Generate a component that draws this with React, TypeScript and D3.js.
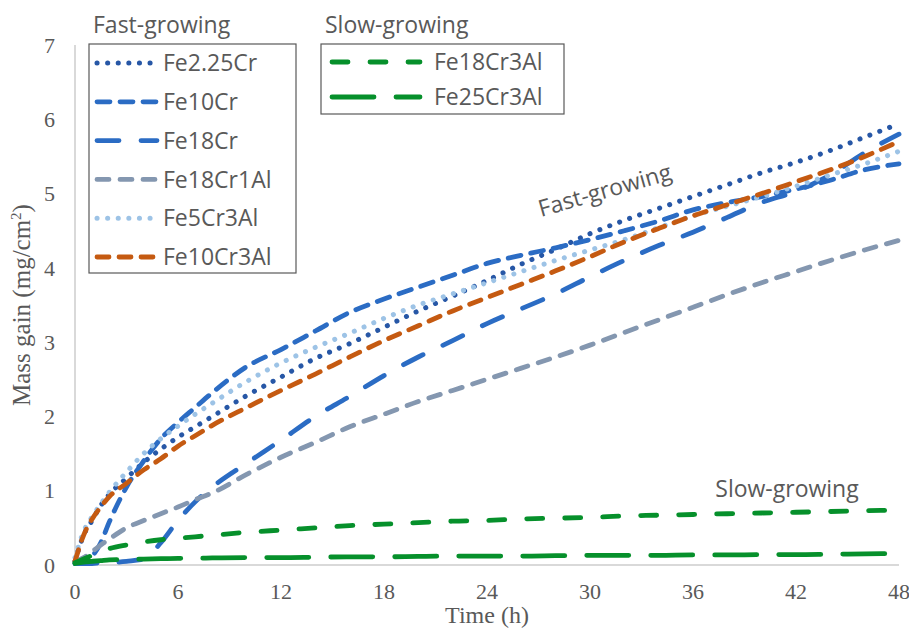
import * as d3 from "d3";

const hours = [0, 0.5, 1, 1.5, 2, 3, 4, 5, 6, 7, 8, 10, 12, 14, 16, 18, 20, 22, 24, 26, 28, 30, 32, 34, 36, 38, 40, 42, 44, 46, 48];

const fe225Cr = [0.05, 0.4, 0.6, 0.8, 0.95, 1.17, 1.38, 1.56, 1.72, 1.86, 2.0, 2.28, 2.53, 2.78, 2.98, 3.2, 3.42, 3.62, 3.83, 4.05, 4.25, 4.46, 4.64, 4.8, 4.96, 5.12, 5.28, 5.42, 5.58, 5.76, 5.94];
const fe10Cr = [0.02, 0.05, 0.12, 0.3, 0.58, 1.05, 1.4, 1.7, 1.92, 2.12, 2.32, 2.67, 2.9, 3.15, 3.4, 3.58, 3.74, 3.9, 4.06, 4.17, 4.27, 4.38, 4.5, 4.63, 4.78, 4.88, 4.96, 5.06, 5.18, 5.32, 5.4];
const fe18Cr = [0.02, 0.02, 0.02, 0.03, 0.03, 0.05, 0.08, 0.3, 0.6, 0.85, 1.05, 1.37, 1.68, 2.0, 2.27, 2.55, 2.8, 3.02, 3.25, 3.45, 3.65, 3.88, 4.1, 4.3, 4.48, 4.68, 4.88, 5.03, 5.25, 5.55, 5.8];
const fe18Cr1Al = [0.05, 0.1, 0.18, 0.27, 0.35, 0.5, 0.6, 0.69, 0.78, 0.88, 0.97, 1.22, 1.45, 1.65, 1.86, 2.03, 2.2, 2.35, 2.5, 2.65, 2.8, 2.96, 3.13, 3.3, 3.47, 3.64, 3.8, 3.95, 4.1, 4.24, 4.37];
const fe5Cr3Al = [0.1, 0.45, 0.65, 0.82, 0.98, 1.25, 1.5, 1.7, 1.87, 2.03, 2.18, 2.47, 2.72, 2.93, 3.12, 3.32, 3.5, 3.65, 3.8, 3.95, 4.1, 4.24, 4.38, 4.54, 4.7, 4.83, 4.96, 5.1, 5.25, 5.4, 5.57];
const fe10Cr3Al = [0.05, 0.4, 0.62, 0.78, 0.92, 1.1, 1.28, 1.43, 1.6, 1.74, 1.88, 2.12, 2.35, 2.57, 2.8, 3.02, 3.22, 3.42, 3.6, 3.78, 3.96, 4.15, 4.35, 4.53, 4.7, 4.85, 5.0, 5.16, 5.32, 5.5, 5.7];
const fe18Cr3Al = [0.03, 0.08, 0.13, 0.18, 0.22, 0.27, 0.31, 0.34, 0.36, 0.38, 0.4, 0.44, 0.47, 0.5, 0.53, 0.55, 0.57, 0.59, 0.6, 0.62, 0.63, 0.64, 0.66, 0.67, 0.68, 0.69, 0.7, 0.71, 0.72, 0.73, 0.74];
const fe25Cr3Al = [0.02, 0.04, 0.05, 0.06, 0.07, 0.075, 0.08, 0.085, 0.09, 0.09, 0.095, 0.1, 0.1, 0.105, 0.11, 0.11, 0.115, 0.12, 0.12, 0.12, 0.125, 0.13, 0.13, 0.13, 0.135, 0.135, 0.14, 0.14, 0.145, 0.15, 0.155];

const xTicks = [0, 6, 12, 18, 24, 30, 36, 42, 48];
const yTicks = [0, 1, 2, 3, 4, 5, 6, 7];

const fastNames = ["Fe2.25Cr", "Fe10Cr", "Fe18Cr", "Fe18Cr1Al", "Fe5Cr3Al", "Fe10Cr3Al"];
const slowNames = ["Fe18Cr3Al", "Fe25Cr3Al"];

const styles: Record<string, { color: string; dash: string; width: number }> = {
  "Fe2.25Cr": { color: "#2757a6", dash: "0.1,10.5", width: 5 },
  "Fe10Cr": { color: "#2b6cc4", dash: "13,10", width: 4.8 },
  "Fe18Cr": { color: "#2b6cc4", dash: "22,22", width: 4.8 },
  "Fe18Cr1Al": { color: "#8497b0", dash: "12,11", width: 4.8 },
  "Fe5Cr3Al": { color: "#9dc3e6", dash: "0.1,10.5", width: 5 },
  "Fe10Cr3Al": { color: "#c55a11", dash: "12,10", width: 4.8 },
  "Fe18Cr3Al": { color: "#06902b", dash: "16,22", width: 4.8 },
  "Fe25Cr3Al": { color: "#06902b", dash: "42,22", width: 4.8 },
};

const seriesValues: Record<string, number[]> = {
  "Fe2.25Cr": fe225Cr,
  "Fe10Cr": fe10Cr,
  "Fe18Cr": fe18Cr,
  "Fe18Cr1Al": fe18Cr1Al,
  "Fe5Cr3Al": fe5Cr3Al,
  "Fe10Cr3Al": fe10Cr3Al,
  "Fe18Cr3Al": fe18Cr3Al,
  "Fe25Cr3Al": fe25Cr3Al,
};

const W = 909, H = 630;
const m = { left: 75, right: 10, top: 45, bottom: 65 };
const TEXT = "#595959";
const SANS = "'Open Sans', 'Liberation Sans', sans-serif";
const SERIF = "'Liberation Serif', 'Times New Roman', serif";

const App = () => {
  const x = d3.scaleLinear().domain([0, 48]).range([m.left, W - m.right]);
  const y = d3.scaleLinear().domain([0, 7]).range([H - m.bottom, m.top]);
  const line = d3.line<[number, number]>()
    .x(d => x(d[0]))
    .y(d => y(d[1]))
    .curve(d3.curveMonotoneX);

  const order = [...fastNames, ...slowNames];

  const legendRow = (name: string, x0: number, x1: number, yy: number, tx: number) => {
    const s = styles[name];
    return (
      <g key={name}>
        <line x1={x0} x2={x1} y1={yy} y2={yy} stroke={s.color} strokeWidth={s.width}
          strokeDasharray={s.dash} strokeLinecap="round" />
        <text x={tx} y={yy} dy="0.36em" fontFamily={SANS} fontSize={23} fill={TEXT}>{name}</text>
      </g>
    );
  };

  return (
    <svg width={W} height={H} style={{ position: "absolute", left: 0, top: 0, background: "#fff" }}>
      {/* axes */}
      <line x1={m.left} x2={m.left} y1={m.top} y2={H - m.bottom} stroke="#d9d9d9" strokeWidth={2} />
      <line x1={m.left} x2={W - m.right} y1={H - m.bottom} y2={H - m.bottom} stroke="#d9d9d9" strokeWidth={2} />
      {yTicks.map(t => (
        <text key={t} x={m.left - 20} y={y(t)} dy="0.35em" textAnchor="end"
          fontFamily={SERIF} fontSize={22} fill={TEXT}>{t}</text>
      ))}
      {xTicks.map(t => (
        <text key={t} x={x(t)} y={H - m.bottom + 26} dy="0.35em" textAnchor="middle"
          fontFamily={SERIF} fontSize={22} fill={TEXT}>{t}</text>
      ))}
      <text x={(m.left + W - m.right) / 2} y={623} textAnchor="middle"
        fontFamily={SERIF} fontSize={24} fill={TEXT}>Time (h)</text>
      <text transform={`translate(30,${(m.top + H - m.bottom) / 2}) rotate(-90)`} textAnchor="middle"
        fontFamily={SERIF} fontSize={25} fill={TEXT}>
        Mass gain (mg/cm<tspan dy="-9" fontSize={15}>2</tspan><tspan dy="9">)</tspan>
      </text>

      {/* series */}
      {order.map(name => {
        const s = styles[name];
        const pts = hours.map((h, i) => [h, seriesValues[name][i]] as [number, number]);
        return (
          <path key={name} d={line(pts) ?? ""} fill="none" stroke={s.color} strokeWidth={s.width}
            strokeDasharray={s.dash} strokeLinecap="round" />
        );
      })}

      {/* annotations */}
      <text transform="translate(607,198) rotate(-16)" textAnchor="middle"
        fontFamily={SANS} fontSize={23} fill={TEXT}>Fast-growing</text>
      <text x={787} y={497} textAnchor="middle" fontFamily={SANS} fontSize={23} fill={TEXT}>Slow-growing</text>

      {/* fast legend */}
      <text x={93} y={33} fontFamily={SANS} fontSize={23} fill={TEXT}>Fast-growing</text>
      <rect x={89} y={44} width={207} height={229} fill="#fff" stroke="#595959" strokeWidth={1.2} />
      {fastNames.map((n, i) => legendRow(n, 97, 157, 63 + i * 38.8, 163))}

      {/* slow legend */}
      <text x={325} y={33} fontFamily={SANS} fontSize={23} fill={TEXT}>Slow-growing</text>
      <rect x={321} y={44} width={243} height={70} fill="#fff" stroke="#595959" strokeWidth={1.2} />
      {slowNames.map((n, i) => legendRow(n, 332, 420, 62 + i * 35, 434))}
    </svg>
  );
};

export default App;
